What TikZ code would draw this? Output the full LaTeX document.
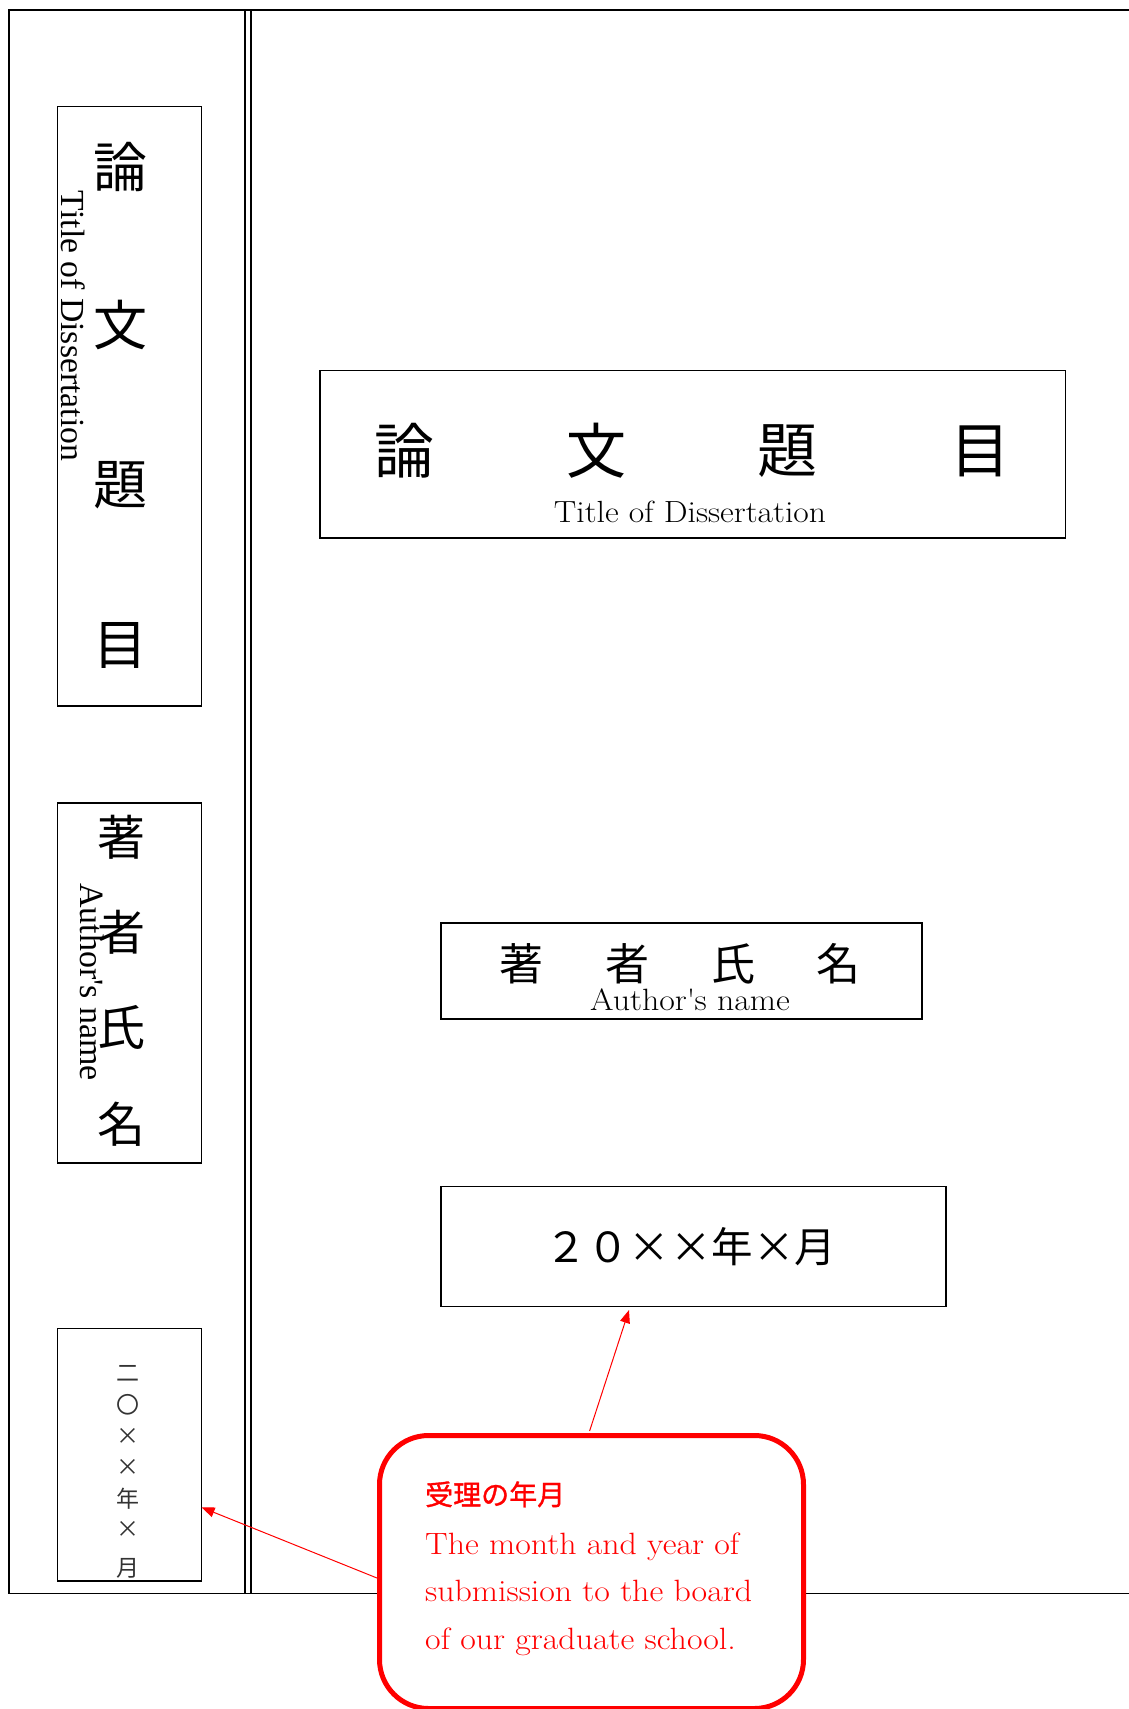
\documentclass[tikz,border=0pt]{standalone}
\usepackage{fontspec}
\newfontfamily\jp{Noto Sans CJK JP}
\newfontfamily\jpm{Noto Sans CJK JP}[FakeBold=1.2]
\newfontfamily\spf{Liberation Serif}
\newfontfamily\cent{Latin Modern Roman}[FakeStretch=1.1]
\usetikzlibrary{arrows.meta}
\begin{document}
\begin{tikzpicture}[x=1pt,y=-1pt,
  frame/.style={line width=1.7pt, black},
  box/.style={draw, line width=1.5pt, inner sep=0pt, anchor=north west},
  jpc/.style={inner sep=0pt, anchor=center},
  lat/.style={inner sep=0pt, anchor=base},
  arr/.style={red, line width=1pt, -{Triangle[length=13pt,width=10pt]}}]
\useasboundingbox (0,0) rectangle (1128,1709);
% outer frame
\draw[frame] (1132,9.8) -- (8.7,9.8) -- (8.7,1593.5) -- (1132,1593.5);
\draw[frame] (245,9.8) -- (245,1593.5);
\draw[frame] (250.7,9.8) -- (250.7,1593.5);
% spine boxes
\node[box, minimum width=143.8pt, minimum height=599.5pt] (sp1) at (56.7,105.7) {};
\node[box, minimum width=143.8pt, minimum height=360pt] (sp2) at (56.7,802) {};
\node[box, minimum width=143.8pt, minimum height=252.5pt] (sp3) at (56.7,1327.5) {};
% spine title
\foreach \c/\y [count=\i] in {論/167,文/325,題/485,目/645}
  \node[jpc, font=\jp\fontsize{54}{54}\selectfont] (spt\i) at (120,\y) {\c};
\node[inner sep=0pt, rotate=-90, font=\spf\fontsize{33.7}{36}\selectfont] (spte) at (73,326) {Title of Dissertation};
% spine author
\foreach \c/\y [count=\i] in {著/837,者/932,氏/1027,名/1124}
  \node[jpc, font=\jp\fontsize{48}{48}\selectfont] (spa\i) at (121,\y) {\c};
\node[inner sep=0pt, rotate=-90, font=\spf\fontsize{34}{36}\selectfont] (spae) at (92.6,982) {Author\textquotesingle s name};
% spine date
\foreach \c/\y [count=\i] in {二/1373,〇/1405,×/1436.5,×/1467,年/1498.6,×/1529,月/1568}
  \node[jpc, text=black!80, font=\jp\fontsize{23}{23}\selectfont] (spd\i) at (127.5,\y) {\c};
% title box
\node[box, minimum width=745.5pt, minimum height=167.8pt] (title) at (319.3,369.5) {};
\foreach \c/\x [count=\i] in {論/404,文/596,題/787,目/980}
  \node[jpc, font=\jp\fontsize{60}{60}\selectfont] (tj\i) at (\x,451) {\c};
\node[lat, font=\cent\fontsize{30.6}{36}\selectfont] (te) at (690,522) {Title of Dissertation};
% author box
\node[box, minimum width=480.7pt, minimum height=96pt] (author) at (440.3,922) {};
\foreach \c/\x [count=\i] in {著/521,者/627,氏/733.5,名/838}
  \node[jpc, font=\jp\fontsize{44}{44}\selectfont] (aj\i) at (\x,963.5) {\c};
\node[lat, font=\cent\fontsize{30.8}{36}\selectfont] (ae) at (690,1010) {Author\textquotesingle s name};
% date box
\node[box, minimum width=504.7pt, minimum height=119.9pt] (date) at (440.3,1185.8) {};
\node[jpc, font=\jp\fontsize{41.5}{41.5}\selectfont] (dt) at (691,1247) {２０××年×月};
% callout
\coordinate (tipA) at (629,1310);
\coordinate (tipB) at (201.6,1507.4);
\coordinate (srcA) at (589.6,1431);
\coordinate (srcB) at (377,1578);
\draw[arr] (srcA) -- (tipA);
\draw[arr] (srcB) -- (tipB);
\node[box, draw=red, fill=white, line width=5pt, rounded corners=49pt,
  minimum width=424pt, minimum height=273pt] (callout) at (377,1433) {};
\node[inner sep=0pt, anchor=base west, text=red, font=\jpm\fontsize{28}{28}\selectfont] (ch) at (425,1505) {受理の年月};
\node[inner sep=0pt, anchor=north west, align=left, text=red, font=\cent\fontsize{30.8}{47.5}\selectfont] (ctext) at (425,1532.6)
  {The month and year of\\submission to the board\\of our graduate school.};
\end{tikzpicture}
\end{document}
